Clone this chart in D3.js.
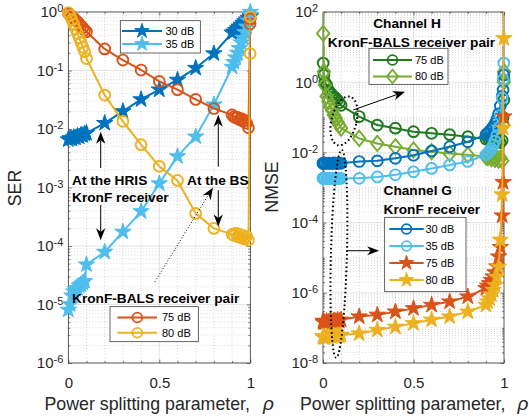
<!DOCTYPE html>
<html><head><meta charset="utf-8">
<script src="https://cdn.jsdelivr.net/npm/d3@7"></script>
<style>
body{margin:0;background:#fff}
svg{display:block}
text{font-family:"Liberation Sans",Arial,Helvetica,sans-serif}
</style>
</head><body>
<svg id="c" width="529" height="419"></svg>
<script>
// ---------------- DATA ----------------
const rhoL = [0,0.01,0.02,0.03,0.04,0.05,0.06,0.07,0.08,0.09,0.1,0.2,0.3,0.4,0.5,0.6,0.7,0.8,0.9,
              0.91,0.92,0.93,0.94,0.95,0.96,0.97,0.98,0.99,0.999,1];
// SER, KronF receiver at the HRIS
const ser30 = [6.6e-3,6.9e-3,6.8e-3,7.2e-3,7.1e-3,7.6e-3,7.4e-3,7.9e-3,7.8e-3,8.3e-3,8.5e-3,
               1.26e-2,2.0e-2,3.2e-2,4.7e-2,6.9e-2,0.11,0.195,0.44,
               0.46,0.49,0.52,0.56,0.60,0.65,0.69,0.74,0.79,0.83,0.85];
const ser35 = [8.1e-6,1.0e-5,1.41e-5,1.66e-5,1.82e-5,1.9e-5,2.1e-5,2.2e-5,2.35e-5,2.5e-5,4.8e-5,
               7.9e-5,1.74e-4,3.9e-4,1.17e-3,3.4e-3,7.4e-3,2.6e-2,0.115,
               0.138,0.166,0.20,0.24,0.30,0.36,0.45,0.56,0.71,0.89,1.0];
// SER, KronF-BALS receiver pair at the BS
const ser75 = [0.95,0.89,0.83,0.78,0.72,0.68,0.63,0.575,0.54,0.49,0.46,
               0.234,0.151,0.102,6.5e-2,4.7e-2,3.2e-2,2.24e-2,1.74e-2,
               1.62e-2,1.55e-2,1.58e-2,1.45e-2,1.51e-2,1.35e-2,1.41e-2,1.26e-2,1.05e-2,0.63,0.76];
const ser80 = [0.98,0.87,0.74,0.62,0.51,0.43,0.36,0.30,0.25,0.21,0.16,
               3.8e-2,1.35e-2,5.4e-3,2.3e-3,1.32e-3,3.6e-4,2.0e-4,1.58e-4,
               1.51e-4,1.66e-4,1.45e-4,1.58e-4,1.38e-4,1.51e-4,1.32e-4,1.45e-4,1.26e-4,0.195,0.83];

const rhoR = [0,0.001,0.005,0.01,0.02,0.03,0.04,0.05,0.06,0.07,0.08,0.09,0.1,0.2,0.3,0.4,0.5,0.6,0.7,0.8,0.9,
              0.91,0.92,0.93,0.94,0.95,0.96,0.97,0.98,0.99,0.995,0.999,1];
// NMSE, channel H (KronF-BALS receiver pair)
const nmseH75 = [1e3,3.5,1.6,1.0,0.83,0.60,0.50,0.44,0.39,0.35,0.31,0.26,0.22,
                 0.105,0.060,0.049,0.039,0.035,0.032,0.028,0.024,
                 0.026,0.0224,0.025,0.021,0.024,0.020,0.023,0.019,0.022,0.1,0.31,1.15];
const nmseH80 = [1e3,24.5,2.0,0.83,0.40,0.28,0.20,0.158,0.117,0.095,0.074,0.060,0.049,
                 0.025,0.018,0.0145,0.0117,0.0105,0.0093,0.0085,0.0076,
                 0.0071,0.0079,0.0066,0.0074,0.0063,0.0072,0.0060,0.0069,0.0058,0.06,1.02,2.0];
// NMSE, channel G (KronF receiver)
const nmseG30 = [4.9e-3,4.8e-3,5.0e-3,4.9e-3,4.85e-3,4.95e-3,4.9e-3,4.8e-3,5.0e-3,4.9e-3,4.95e-3,4.85e-3,4.9e-3,
                 5.5e-3,5.75e-3,6.8e-3,8.3e-3,1.1e-2,1.45e-2,2.0e-2,3.2e-2,
                 3.5e-2,4.0e-2,4.6e-2,5.4e-2,6.6e-2,8.7e-2,0.126,0.21,0.40,0.60,1.6,1e3];
const nmseG35 = [1.85e-3,1.8e-3,1.82e-3,1.86e-3,1.8e-3,1.83e-3,1.79e-3,1.84e-3,1.81e-3,1.85e-3,1.8e-3,1.82e-3,1.83e-3,
                 1.82e-3,2.0e-3,2.3e-3,2.8e-3,3.5e-3,4.4e-3,5.5e-3,8.5e-3,
                 9.5e-3,1.1e-2,1.29e-2,1.58e-2,2.1e-2,3.0e-2,5.0e-2,0.112,0.355,1.2,3.5,1e3];
const nmseG75 = [1.58e-7,1.45e-7,1.51e-7,1.41e-7,1.55e-7,1.48e-7,1.58e-7,1.51e-7,1.62e-7,1.55e-7,1.66e-7,1.58e-7,1.70e-7,
                 2.1e-7,2.35e-7,2.9e-7,3.6e-7,4.5e-7,5.6e-7,7.8e-7,1.35e-6,
                 1.58e-6,1.86e-6,2.3e-6,2.9e-6,3.8e-6,5.6e-6,1.07e-5,2.0e-5,1.58e-4,1.41e-3,0.105,1e3];
const nmseG80 = [5.75e-8,5.4e-8,5.6e-8,5.25e-8,5.75e-8,5.5e-8,5.9e-8,5.6e-8,6.0e-8,5.75e-8,6.2e-8,5.9e-8,6.3e-8,
                 6.9e-8,8.7e-8,1.07e-7,1.35e-7,1.7e-7,2.1e-7,2.9e-7,4.5e-7,
                 5.6e-7,6.9e-7,8.9e-7,1.2e-6,1.66e-6,2.8e-6,5.5e-6,3.2e-5,6.3e-4,0.05,17.8,1e3];

const xTickVals = [0,0.5,1];
const xTickLabels = ["0","0.5","1"];
const serTicks = [1e-6,1e-5,1e-4,1e-3,1e-2,1e-1,1];
const nmseTicks = [1e-8,1e-6,1e-4,1e-2,1,1e2];
const legendSER1 = ["30 dB","35 dB"];
const legendSER2 = ["75 dB","80 dB"];
const legendH = ["75 dB","80 dB"];
const legendG = ["30 dB","35 dB","75 dB","80 dB"];

// ---------------- STYLE ----------------
const COL = {blue:"#0072BD", lblue:"#4DBEEE", orange:"#D95319", yellow:"#EDB120",
             dgreen:"#1F7A1F", lgreen:"#77AC30", ax:"#262626"};
const svg = d3.select("#c");
svg.append("rect").attr("width",529).attr("height",419).attr("fill","#fff");
const defs = svg.append("defs");

const LW = 2;
function markerPath(type){
  if(type==="star") return d3.symbol(d3.symbolStar, 8.6*8.6/0.8908130915292852)();
  if(type==="diamond") return "M0,-7.6L6.2,0L0,7.6L-6.2,0Z";
  return d3.symbol(d3.symbolCircle, Math.PI*5.4*5.4)();
}

function panel(id, x, y, ticksY, minorY){
  const [x0,x1] = x.range(), [yb,yt] = y.range();
  const g = svg.append("g");
  defs.append("clipPath").attr("id",id).append("rect")
     .attr("x",x0).attr("y",yt).attr("width",x1-x0).attr("height",yb-yt);
  const xMinor = d3.range(1,10).map(i=>i/10).filter(v=>v!==0.5);
  g.selectAll(null).data(xMinor).join("line")
    .attr("x1",d=>x(d)).attr("x2",d=>x(d)).attr("y1",yt).attr("y2",yb)
    .attr("stroke","rgba(38,38,38,0.28)").attr("stroke-width",0.6).attr("stroke-dasharray","1,2");
  g.selectAll(null).data(minorY).join("line")
    .attr("y1",d=>y(d)).attr("y2",d=>y(d)).attr("x1",x0).attr("x2",x1)
    .attr("stroke","rgba(38,38,38,0.28)").attr("stroke-width",0.6).attr("stroke-dasharray","1,2");
  g.selectAll(null).data(xTickVals).join("line")
    .attr("x1",d=>x(d)).attr("x2",d=>x(d)).attr("y1",yt).attr("y2",yb)
    .attr("stroke","rgba(38,38,38,0.15)").attr("stroke-width",0.8);
  g.selectAll(null).data(ticksY).join("line")
    .attr("y1",d=>y(d)).attr("y2",d=>y(d)).attr("x1",x0).attr("x2",x1)
    .attr("stroke","rgba(38,38,38,0.15)").attr("stroke-width",0.8);
  const bottom = g.append("g").attr("transform",`translate(0,${yb})`)
    .call(d3.axisBottom(x).tickValues(xTickVals).tickFormat((d,i)=>xTickLabels[i]).tickSizeInner(-3.5).tickSizeOuter(0).tickPadding(14));
  bottom.selectAll("text").attr("font-size","15px").attr("fill",COL.ax).attr("font-family","Liberation Sans, Arial, sans-serif");
  g.append("g").attr("transform",`translate(0,${yb})`)
    .call(d3.axisBottom(x).tickValues(xMinor).tickFormat("").tickSizeInner(-2).tickSizeOuter(0));
  g.append("g").attr("transform",`translate(0,${yt})`)
    .call(d3.axisTop(x).tickValues(xTickVals).tickFormat("").tickSizeInner(-3.5).tickSizeOuter(0));
  g.append("g").attr("transform",`translate(0,${yt})`)
    .call(d3.axisTop(x).tickValues(xMinor).tickFormat("").tickSizeInner(-2).tickSizeOuter(0));
  const left = g.append("g").attr("transform",`translate(${x0},0)`)
    .call(d3.axisLeft(y).tickValues(ticksY).tickSizeInner(-3.5).tickSizeOuter(0).tickPadding(5));
  left.selectAll(".tick text").each(function(d){
    const t = d3.select(this); const e = Math.round(Math.log10(d));
    t.text(null).attr("font-size","15px").attr("fill",COL.ax).attr("font-family","Liberation Sans, Arial, sans-serif");
    t.append("tspan").text("10");
    t.append("tspan").attr("dy","-0.45em").attr("font-size","11px").text(e<0?"-"+(-e):String(e));
  });
  g.append("g").attr("transform",`translate(${x0},0)`)
    .call(d3.axisLeft(y).tickValues(minorY).tickFormat("").tickSizeInner(-2).tickSizeOuter(0));
  g.append("g").attr("transform",`translate(${x1},0)`)
    .call(d3.axisRight(y).tickValues(ticksY).tickFormat("").tickSizeInner(-3.5).tickSizeOuter(0));
  g.append("g").attr("transform",`translate(${x1},0)`)
    .call(d3.axisRight(y).tickValues(minorY).tickFormat("").tickSizeInner(-2).tickSizeOuter(0));
  g.selectAll(".domain").remove();
  g.selectAll(".tick line").attr("stroke",COL.ax).attr("stroke-width",0.6);
  g.append("rect").attr("x",x0).attr("y",yt).attr("width",x1-x0).attr("height",yb-yt)
    .attr("fill","none").attr("stroke",COL.ax).attr("stroke-width",0.7);
  return g;
}

function series(g, clipId, x, y, rho, vals, color, mk){
  const pts = rho.map((r,i)=>[r, vals[i]]);
  const [lo,hi] = y.domain();
  g.append("path").attr("d", d3.line().x(d=>x(d[0])).y(d=>y(d[1]))(pts))
    .attr("clip-path",`url(#${clipId})`).attr("fill","none").attr("stroke",color).attr("stroke-width",LW)
    .attr("stroke-linejoin","round");
  const vis = pts.filter(d=>d[1]>=lo*0.999 && d[1]<=hi*1.001);
  g.selectAll(null).data(vis).join("path")
    .attr("d", markerPath(mk))
    .attr("transform", d=>`translate(${x(d[0])},${y(d[1])})`)
    .attr("fill", mk==="star"?color:"none").attr("stroke",color)
    .attr("stroke-width", mk==="star"?1:1.9).attr("stroke-linejoin","miter");
}

function legend(box, rows, labels, items){
  const g = svg.append("g");
  g.append("rect").attr("x",box[0]).attr("y",box[1]).attr("width",box[2]-box[0]).attr("height",box[3]-box[1])
    .attr("fill","#fff").attr("stroke",COL.ax).attr("stroke-width",0.7);
  labels.forEach((lab,i)=>{
    const yy = rows.y[i], it = items[i];
    g.append("line").attr("x1",rows.l0).attr("x2",rows.l1).attr("y1",yy).attr("y2",yy)
      .attr("stroke",it.c).attr("stroke-width",LW);
    g.append("path").attr("d",markerPath(it.m)).attr("transform",`translate(${(rows.l0+rows.l1)/2},${yy}) scale(0.9)`)
      .attr("fill",it.m==="star"?it.c:"none").attr("stroke",it.c).attr("stroke-width",it.m==="star"?1:2);
    g.append("text").attr("x",rows.tx).attr("y",yy).attr("dy","0.36em").attr("font-size","11px")
      .attr("fill","#000").text(lab);
  });
}

function arrow(g, p0, p1, dotted){
  const [xa,ya]=p0,[xb,yb]=p1;
  const ang = Math.atan2(yb-ya, xb-xa), L=12, Wd=4.6, N=3.5;
  const ux=Math.cos(ang), uy=Math.sin(ang), px=-uy, py=ux;
  const bx = xb-ux*L, by = yb-uy*L;
  g.append("line").attr("x1",xa).attr("y1",ya).attr("x2",xb-ux*(L-N)).attr("y2",yb-uy*(L-N))
    .attr("stroke","#000").attr("stroke-width",1)
    .attr("stroke-dasharray",dotted?"1,2":null);
  g.append("path").attr("d",`M${xb},${yb}L${bx+px*Wd},${by+py*Wd}L${xb-ux*(L-N)},${yb-uy*(L-N)}L${bx-px*Wd},${by-py*Wd}Z`)
    .attr("fill","#000");
}
function label(g, x, y, txt, anchor){
  g.append("text").attr("x",x).attr("y",y).attr("font-size","13.7px").attr("font-weight","bold")
    .attr("fill","#000").attr("text-anchor",anchor||"start").text(txt);
}

// ---------------- LEFT: SER ----------------
const xL = d3.scaleLinear().domain([0,1]).range([68.3,250.3]);
const yL = d3.scaleLog().domain([1e-6,1]).range([363,12]);
const minorL = [];
for(let e=-6;e<0;e++) for(let k=2;k<=9;k++) minorL.push(k*Math.pow(10,e));
const gL = panel("clipL", xL, yL, serTicks, minorL);
series(gL,"clipL",xL,yL,rhoL,ser30,COL.blue,"star");
series(gL,"clipL",xL,yL,rhoL,ser35,COL.lblue,"star");
series(gL,"clipL",xL,yL,rhoL,ser75,COL.orange,"circle");
series(gL,"clipL",xL,yL,rhoL,ser80,COL.yellow,"circle");

const aL = svg.append("g");
const PL = (r,v)=>[xL(r),yL(v)];
arrow(aL, PL(0.178,2.15e-3), PL(0.178,9.0e-3));
arrow(aL, PL(0.178,5.0e-4), PL(0.178,1.25e-4));
arrow(aL, PL(0.824,2.26e-3), PL(0.824,1.75e-2));
arrow(aL, PL(0.824,9.0e-4), PL(0.824,2.15e-4));
arrow(aL, PL(0.476,2.45e-5), PL(0.795,1.0e-3), true);
label(aL, 72, 185, "At the HRIS");
label(aL, 72, 202, "KronF receiver");
label(aL, 187, 185, "At the BS");
label(aL, 72, 303, "KronF-BALS receiver pair");
legend([120.3,20.7,200.3,53], {y:[31,44], l0:122, l1:162, tx:165.5}, legendSER1,
       [{c:COL.blue,m:"star"},{c:COL.lblue,m:"star"}]);
legend([110,306.7,198.3,341.7], {y:[317.5,332.7], l0:117.5, l1:157, tx:162}, legendSER2,
       [{c:COL.orange,m:"circle"},{c:COL.yellow,m:"circle"}]);

// ---------------- RIGHT: NMSE ----------------
const xR = d3.scaleLinear().domain([0,1]).range([323,504]);
const yR = d3.scaleLog().domain([1e-8,1e2]).range([363,12]);
const minorR = [];
for(let e=-8;e<2;e++) for(let k=1;k<=9;k++){ if(k===1 && e%2===0) continue; minorR.push(k*Math.pow(10,e)); }
const gR = panel("clipR", xR, yR, nmseTicks, minorR);
series(gR,"clipR",xR,yR,rhoR,nmseH75,COL.dgreen,"circle");
series(gR,"clipR",xR,yR,rhoR,nmseH80,COL.lgreen,"diamond");
series(gR,"clipR",xR,yR,rhoR,nmseG30,COL.blue,"circle");
series(gR,"clipR",xR,yR,rhoR,nmseG35,COL.lblue,"circle");
series(gR,"clipR",xR,yR,rhoR,nmseG75,COL.orange,"star");
series(gR,"clipR",xR,yR,rhoR,nmseG80,COL.yellow,"star");

const aR = svg.append("g");
const PR = (r,v)=>[xR(r),yR(v)];
const e1 = PR(0.116, 0.0785), e2 = PR(0.088, 1.29e-5);
aR.append("ellipse").attr("cx",0).attr("cy",0).attr("rx",12.5).attr("ry",25)
  .attr("transform",`translate(${e1[0]},${e1[1]}) rotate(14)`)
  .attr("fill","none").attr("stroke","#000").attr("stroke-width",2).attr("stroke-dasharray","1.6,2.6");
aR.append("ellipse").attr("cx",0).attr("cy",0).attr("rx",8).attr("ry",104)
  .attr("transform",`translate(${e2[0]},${e2[1]}) rotate(1.5)`)
  .attr("fill","none").attr("stroke","#000").attr("stroke-width",2).attr("stroke-dasharray","1.6,2.6");
arrow(aR, PR(0.167,0.162), PR(0.453,0.537));
arrow(aR, PR(0.133,1.58e-5), PR(0.31,1.58e-5));
label(aR, 407, 28, "Channel H", "middle");
label(aR, 411.5, 46.5, "KronF-BALS receiver pair", "middle");
label(aR, 383.5, 195, "Channel G");
label(aR, 383.5, 214, "KronF receiver");
legend([369,48.3,448,84.3], {y:[60,76.5], l0:373, l1:412, tx:415}, legendH,
       [{c:COL.dgreen,m:"circle"},{c:COL.lgreen,m:"diamond"}]);
legend([384.7,217.3,466,291.7], {y:[229,246,263,280], l0:389.3, l1:423.7, tx:425.5}, legendG,
       [{c:COL.blue,m:"circle"},{c:COL.lblue,m:"circle"},{c:COL.orange,m:"star"},{c:COL.yellow,m:"star"}]);

// ---------------- AXIS LABELS ----------------
function ylab(x,y,txt){
  svg.append("text").attr("transform",`translate(${x},${y}) rotate(-90)`).attr("text-anchor","middle")
    .attr("dy","0.36em").attr("font-size","17.8px").attr("fill",COL.ax).text(txt);
}
ylab(15,188,"SER");
ylab(271.5,187,"NMSE");
function xlab(xEnd, xRho){
  svg.append("text").attr("x",xEnd).attr("y",409.5).attr("text-anchor","end")
    .attr("font-size","17.8px").attr("fill",COL.ax).text("Power splitting parameter,");
  svg.append("text").attr("x",xRho).attr("y",409.5).attr("font-size","19px").attr("font-style","italic")
    .attr("font-family","DejaVu Serif, Liberation Serif, serif").attr("fill",COL.ax).text("ρ");
}
xlab(250, 263);
xlab(505.5, 517.5);
</script>
</body></html>
